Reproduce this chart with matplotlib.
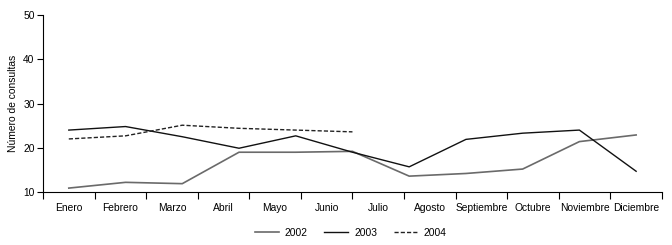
import numpy as np
import matplotlib.pyplot as plt

plt.rcParams['font.family'] = ['Liberation Sans', 'DejaVu Sans']

meses = ["Enero", "Febrero", "Marzo", "Abril", "Mayo", "Junio", "Julio",
         "Agosto", "Septiembre", "Octubre", "Noviembre", "Diciembre"]

# valores (11 puntos repartidos entre Enero y Diciembre)
v2002 = [10.9, 12.2, 11.9, 19.0, 19.0, 19.2, 13.6, 14.2, 15.2, 21.4, 22.9]
v2003 = [24.0, 24.8, 22.5, 19.9, 22.7, 19.0, 15.7, 21.9, 23.3, 24.0, 14.7]
v2004 = [22.0, 22.7, 25.1, 24.4, 24.0, 23.6]


def main():
    fig = plt.figure(figsize=(6.72, 2.45), dpi=100)
    ax = fig.add_axes([0.064, 0.216, 0.921, 0.723])

    # los puntos van del centro de Enero al centro de Diciembre
    x = np.linspace(0.5, len(meses) - 0.5, len(v2002))

    ax.plot(x, v2002, color="#6a6a6a", lw=1.2, label="2002")
    ax.plot(x, v2003, color="#111111", lw=1.0, label="2003")
    ax.plot(x[:len(v2004)], v2004, color="#222222", lw=1.0,
            ls=(0, (3, 1.5)), label="2004")

    ax.set_xlim(0, len(meses))
    ax.set_ylim(10, 50)
    ax.set_yticks([10, 20, 30, 40, 50])
    ax.set_xticks(np.arange(len(meses) + 1))
    ax.set_xticklabels([])
    ax.set_xticks(np.arange(len(meses)) + 0.5, minor=True)
    ax.set_xticklabels(meses, minor=True)
    ax.tick_params(axis="x", which="minor", length=0, pad=8, labelsize=7.4)
    ax.tick_params(axis="x", which="major", length=5, width=0.8, direction="out")
    ax.tick_params(axis="y", length=4, width=0.8, labelsize=7.4, pad=2)

    for s in ["top", "right"]:
        ax.spines[s].set_visible(False)
    ax.spines["left"].set_linewidth(0.8)
    ax.spines["bottom"].set_linewidth(0.8)

    ax.set_ylabel("Número de consultas", fontsize=7.4, labelpad=4)

    fig.legend(loc="center", bbox_to_anchor=(0.522, 0.05), ncol=3,
               frameon=False, fontsize=7.4, handlelength=2.3,
               columnspacing=1.6, handletextpad=0.6)

    fig.savefig("out.png", dpi=100)


if __name__ == "__main__":
    main()
